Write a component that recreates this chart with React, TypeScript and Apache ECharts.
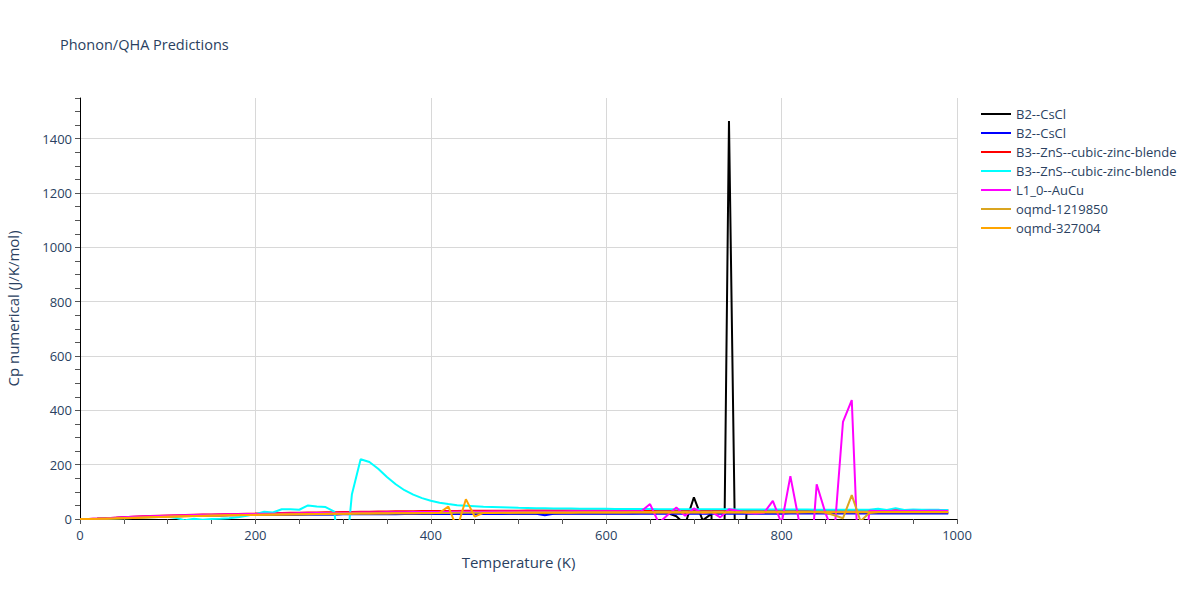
import React, { useEffect, useRef } from 'react'
import * as echarts from 'echarts'

// temperature grid (K)
const temps = [
  0, 10, 20, 30, 40, 50, 60, 70, 80, 90, 100, 110, 120, 130, 140, 150, 160, 170, 180, 190,
  200, 210, 220, 230, 240, 250, 260, 270, 280, 290, 300, 310, 320, 330, 340, 350, 360, 370, 380, 390,
  400, 410, 420, 430, 440, 450, 460, 470, 480, 490, 500, 510, 520, 530, 540, 550, 560, 570, 580, 590,
  600, 610, 620, 630, 640, 650, 660, 670, 680, 690, 700, 710, 720, 730, 740, 750, 760, 770, 780, 790,
  800, 810, 820, 830, 840, 850, 860, 870, 880, 890, 900, 910, 920, 930, 940, 950, 960, 970, 980, 990,
]

const b2Black = [
  0, 0.2, 1.0, 2.3, 3.8, 5.2, 6.5, 7.6, 8.6, 9.5,
  10.3, 11.0, 11.7, 12.3, 12.9, 13.4, 13.9, 14.3, 14.7, 15.1,
  15.5, 15.8, 16.1, 16.4, 16.7, 17.0, 17.2, 17.4, 17.6, 17.8,
  18.0, 18.2, 18.3, 18.5, 18.6, 18.8, 18.9, 19.0, 19.1, 19.2,
  19.3, 19.4, 19.5, 19.6, 19.7, 19.8, 19.9, 20.0, 20.1, 20.2,
  20.3, 20.4, 20.5, 20.6, 20.7, 20.8, 20.9, 21.0, 21.1, 21.2,
  21.3, 21.4, 21.5, 21.6, 21.7, 21.8, 21.9, 22.0, 10, -20,
  80, -5, 19, -1465, 1465, -785, 25, 22.2, 22.3, 22.4,
  22.5, 22.5, 22.6, 22.6, 22.7, 22.7, 22.8, 22.8, 22.9, 22.9,
  23.0, 23.0, 23.1, 23.1, 23.2, 23.2, 23.3, 23.3, 23.4, 23.4,
]

const b2Blue = [
  0, 0.1, 0.8, 2.0, 3.4, 4.8, 6.0, 7.1, 8.1, 9.0,
  9.8, 10.5, 11.2, 11.8, 12.3, 12.8, 13.3, 13.7, 14.1, 14.5,
  14.8, 15.1, 15.4, 15.7, 16.0, 16.2, 16.4, 16.6, 16.8, 17.0,
  17.2, 17.3, 17.4, 17.6, 17.7, 17.8, 17.9, 18.0, 18.1, 18.2,
  18.3, 18.4, 18.5, 18.5, 18.6, 18.7, 18.7, 18.8, 18.8, 18.9,
  18.9, 19.0, 19.0, 14.0, 19.0, 19.1, 19.1, 19.1, 19.2, 19.2,
  19.2, 19.3, 19.3, 19.3, 19.3, 19.4, 19.4, 19.4, 19.4, 19.5,
  19.5, 19.5, 19.5, 19.6, 19.6, 19.6, 19.6, 19.7, 19.7, 19.7,
  19.7, 19.8, 19.8, 19.8, 19.8, 19.9, 19.9, 19.9, 19.9, 20.0,
  20.0, 20.0, 20.0, 20.1, 20.1, 20.1, 20.1, 20.2, 20.2, 20.2,
]

const b3Red = [
  0, 0.3, 1.5, 3.2, 5.0, 6.8, 8.4, 9.8, 11.0, 12.1,
  13.1, 14.0, 14.8, 15.6, 16.3, 17.0, 17.6, 18.2, 18.8, 19.4,
  20.0, 20.7, 21.4, 22.0, 22.6, 23.2, 23.8, 24.3, 24.8, 25.3,
  25.8, 26.2, 26.6, 27.0, 27.4, 27.8, 28.1, 28.4, 28.7, 29.0,
  29.3, 29.5, 29.7, 29.9, 30.1, 30.3, 30.4, 30.5, 30.6, 30.7,
  30.8, 30.9, 31.0, 31.0, 31.1, 31.1, 31.2, 31.2, 31.3, 31.3,
  31.4, 31.4, 31.4, 31.5, 31.5, 31.5, 31.6, 31.6, 31.6, 31.7,
  31.7, 31.7, 31.8, 31.8, 31.8, 31.9, 31.9, 31.9, 32.0, 32.0,
  32.0, 32.1, 32.1, 32.1, 32.2, 32.2, 32.2, 32.3, 32.3, 32.3,
  32.4, 32.4, 32.4, 32.5, 32.5, 32.5, 32.6, 32.6, 32.6, 32.7,
]

const b3Cyan = [
  0, 0.1, 0.5, 1.2, 2.0, 3.0, 4.0, 5.0, 6.0, 7.0,
  8.0, 4, -5, 1, -3, 0, 1, 3, 6, 12,
  18, 27, 24, 36, 36, 34, 50, 46, 44, 27,
  -250, 90, 220, 210, 185, 155, 128, 106, 90, 77,
  67, 60, 55, 51, 49, 47, 45, 44, 43, 42,
  41, 40.5, 40, 39.5, 39, 38.6, 38.3, 38, 37.7, 37.5,
  37.3, 37.1, 36.9, 36.7, 36.5, 36.4, 36.3, 36.2, 36.1, 36.0,
  35.9, 35.8, 35.7, 35.6, 35.5, 35.4, 35.3, 35.2, 35.1, 35.0,
  34.9, 34.8, 34.7, 34.6, 34.5, 34.4, 34.3, 34.2, 34.1, 34.0,
  34.0, 38, 33.5, 40, 33.5, 35, 33.8, 34, 33.6, 33.5,
]

const l10Magenta = [
  0, 0.3, 1.4, 3.0, 4.7, 6.4, 7.9, 9.2, 10.4, 11.4,
  12.3, 13.1, 13.9, 14.6, 15.3, 15.9, 16.5, 17.1, 17.6, 18.1,
  18.6, 19.1, 19.6, 20.1, 20.5, 20.9, 21.3, 21.7, 22.1, 22.5,
  22.9, 23.3, 23.6, 23.9, 24.2, 24.5, 24.8, 25.1, 25.4, 25.7,
  26.0, 26.2, 26.4, 26.6, 26.8, 27.0, 27.1, 27.2, 27.3, 27.4,
  27.5, 27.6, 27.7, 27.8, 27.9, 28.0, 28.1, 28.2, 28.2, 28.3,
  28.3, 28.4, 28.4, 28.5, 28.5, 55, -15, 15, 42, 12,
  39, 22, 27, 6, 36, 30, 23, 20, 23, 67,
  -17, 158, -10, -300, 128, 22, -60, 358, 438, -360,
  30, 29, 29.5, 30, 29, 30, 29.5, 30, 30, 29.5,
]

const oqmd1219850 = [
  0, 0.1, 0.6, 1.4, 2.4, 3.5, 4.6, 5.7, 6.7, 7.7,
  8.6, 9.5, 10.3, 11.1, 11.8, 12.5, 13.2, 13.8, 14.4, 15.0,
  15.5, 16.0, 16.5, 17.0, 17.4, 17.8, 18.2, 18.6, 19.0, 19.3,
  19.6, 19.9, 20.2, 20.5, 20.8, 21.0, 21.2, 21.4, 21.6, 21.8,
  22.0, 22.2, 22.4, 22.6, 22.8, 23.0, 23.1, 23.2, 23.3, 23.4,
  23.5, 23.6, 23.7, 23.8, 23.9, 24.0, 24.0, 24.1, 24.1, 24.2,
  24.2, 24.3, 24.3, 24.4, 24.4, 24.5, 24.5, 24.6, 24.6, 24.7,
  24.7, 24.8, 24.8, 24.9, 24.9, 25.0, 25.0, 25.1, 25.1, 25.2,
  25.2, 25.3, 25.3, 25.4, 25.4, 24, 14, 3, 88, -8,
  22, 25.5, 25.6, 25.6, 25.7, 25.7, 25.8, 25.8, 25.9, 25.9,
]

const oqmd327004 = [
  0, 0.1, 0.5, 1.2, 2.0, 3.0, 4.0, 5.0, 6.0, 7.0,
  8.0, 8.9, 9.8, 10.6, 11.4, 12.1, 12.8, 13.4, 14.0, 14.6,
  15.1, 15.6, 16.1, 16.6, 17.0, 17.4, 17.8, 18.2, 18.6, 18.9,
  19.2, 19.5, 19.8, 20.1, 20.4, 20.6, 20.8, 21.0, 21.2, 21.4,
  21.6, 23, 46, -35, 73, 9, 22.4, 22.5, 22.6, 22.7,
  22.8, 22.9, 23.0, 23.1, 23.2, 23.3, 23.4, 23.5, 23.5, 23.6,
  23.6, 23.7, 23.7, 23.8, 23.8, 23.9, 23.9, 24.0, 24.0, 24.1,
  24.1, 24.2, 24.2, 24.2, 24.3, 24.3, 24.3, 24.4, 24.4, 24.4,
  24.5, 24.5, 24.5, 24.6, 24.6, 24.6, 24.7, 24.7, 24.7, 24.8,
  24.8, 24.8, 24.9, 24.9, 24.9, 25.0, 25.0, 25.0, 25.1, 25.1,
]

const seriesNames = [
  'B2--CsCl',
  'B2--CsCl',
  'B3--ZnS--cubic-zinc-blende',
  'B3--ZnS--cubic-zinc-blende',
  'L1_0--AuCu',
  'oqmd-1219850',
  'oqmd-327004',
]
const seriesColors = ['#000000', '#0000ff', '#ff0000', '#00ffff', '#ff00ff', '#daa520', '#ffa500']
const seriesValues = [b2Black, b2Blue, b3Red, b3Cyan, l10Magenta, oqmd1219850, oqmd327004]

const xTickLabels = [0, 200, 400, 600, 800, 1000]
const yTickLabels = [0, 200, 400, 600, 800, 1000, 1200, 1400]

const textColor = '#2a3f5f'
const font = '"Open Sans", Verdana, Arial, sans-serif'

const App: React.FC = () => {
  const chartRef = useRef<HTMLDivElement>(null)

  useEffect(() => {
    if (!chartRef.current) return
    const chart = echarts.init(chartRef.current, undefined, { renderer: 'svg' })

    const series = seriesValues.map((vals, i) => ({
      name: seriesNames[i],
      type: 'line',
      xAxisIndex: 0,
      yAxisIndex: 0,
      data: temps.map((t, j) => [t, vals[j]]),
      symbol: 'none',
      showSymbol: false,
      lineStyle: { width: 2, color: seriesColors[i] },
      itemStyle: { color: seriesColors[i] },
      z: 3,
    }))

    // legend drawn by hand: two pairs of entries share the same name
    const legendItems = seriesNames.map((name, i) => ({
      type: 'group',
      x: 981,
      y: 114 + i * 19,
      children: [
        {
          type: 'line',
          shape: { x1: 0, y1: 0, x2: 30, y2: 0 },
          style: { stroke: seriesColors[i], lineWidth: 2 },
        },
        {
          type: 'text',
          x: 35,
          y: 0,
          style: {
            text: name,
            fill: textColor,
            fontSize: 13,
            fontFamily: font,
            verticalAlign: 'middle',
            align: 'left',
          },
        },
      ],
    }))

    const axisCommon = {
      axisLine: { show: true, lineStyle: { color: '#000000', width: 1 } },
      axisTick: { show: true, length: 5, lineStyle: { color: '#555555' } },
      splitLine: { show: false },
    }

    chart.setOption({
      animation: false,
      backgroundColor: '#ffffff',
      textStyle: { fontFamily: font },
      title: {
        text: 'Phonon/QHA Predictions',
        left: 60,
        top: 37,
        padding: 0,
        textStyle: { color: textColor, fontSize: 14.5, fontWeight: 'normal', fontFamily: font },
      },
      graphic: legendItems,
      grid: {
        left: 80,
        right: 243,
        top: 98,
        bottom: 81,
        containLabel: false,
        outerBoundsMode: 'none',
      },
      xAxis: [
        {
          type: 'value',
          min: 0,
          max: 1000,
          interval: 50,
          name: 'Temperature (K)',
          nameLocation: 'middle',
          nameGap: 35,
          nameTextStyle: { color: textColor, fontSize: 15, fontFamily: font },
          ...axisCommon,
          axisLabel: {
            color: textColor,
            fontSize: 13,
            fontFamily: font,
            margin: 9,
            formatter: (v: number) => (xTickLabels.includes(v) ? String(v) : ''),
          },
        },
        {
          type: 'value',
          min: 0,
          max: 1000,
          interval: 200,
          axisLine: { show: false },
          axisTick: { show: false },
          axisLabel: { show: false },
          splitLine: { show: true, showMinLine: false, lineStyle: { color: '#d8d8d8', width: 1 } },
        },
      ],
      yAxis: [
        {
          type: 'value',
          min: 0,
          max: 1550,
          interval: 50,
          name: 'Cp numerical (J/K/mol)',
          nameLocation: 'middle',
          nameGap: 60,
          nameTextStyle: { color: textColor, fontSize: 15, fontFamily: font },
          ...axisCommon,
          axisLabel: {
            color: textColor,
            fontSize: 13,
            fontFamily: font,
            margin: 8,
            formatter: (v: number) => (yTickLabels.includes(v) ? String(v) : ''),
          },
        },
        {
          type: 'value',
          min: 0,
          max: 1550,
          interval: 200,
          axisLine: { show: false },
          axisTick: { show: false },
          axisLabel: { show: false },
          splitLine: {
            show: true,
            showMinLine: false,
            showMaxLine: false,
            lineStyle: { color: '#d8d8d8', width: 1 },
          },
        },
      ],
      series,
    })

    return () => {
      chart.dispose()
    }
  }, [])

  return (
    <div
      ref={chartRef}
      style={{ position: 'fixed', left: 0, top: 0, width: '1200px', height: '600px' }}
    />
  )
}

export default App
